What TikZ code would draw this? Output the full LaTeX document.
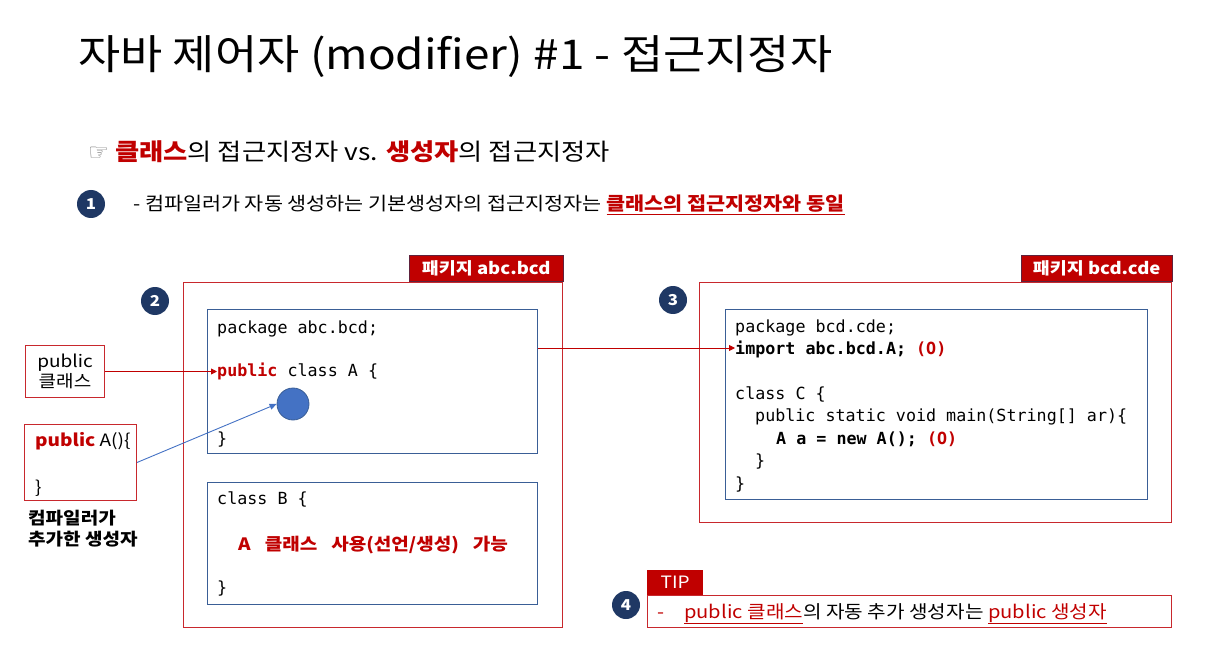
\documentclass[tikz,border=0pt]{standalone}
\usepackage{fontspec}
\setmainfont[FakeStretch=1.12]{Noto Sans CJK KR}
\setmonofont{DejaVu Sans Mono}
\newfontfamily\symfont{DejaVu Sans}
\usepackage{xcolor}
\usepackage{tikz}
\usetikzlibrary{arrows.meta,calc,positioning}

\definecolor{pkgred}{HTML}{C00000}
\definecolor{pkgline}{HTML}{C8282D}
\definecolor{boxblue}{HTML}{3A5E96}
\definecolor{navy}{HTML}{1F3864}
\definecolor{dotblue}{HTML}{4472C4}
\definecolor{handgray}{HTML}{7F7F7F}

\newcommand{\fs}[1]{\fontsize{#1}{#1}\selectfont}
\newcommand{\fsb}[2]{\fontsize{#1}{#2}\selectfont}
\newcommand{\gap}{\hspace{14pt}}

\tikzset{
  pkgbox/.style={draw=pkgline, line width=1.4pt, anchor=north west, inner sep=0},
  codebox/.style={draw=boxblue, line width=1.4pt, anchor=north west, inner sep=0},
  pkgtag/.style={fill=pkgred, draw=navy!60!pkgred, line width=0.6pt, text=white,
    font=\bfseries\fs{16.5}, anchor=south east, inner sep=0, minimum height=26},
  numdot/.style={circle, fill=navy, text=white, font=\bfseries\fs{15},
    minimum size=28, inner sep=0},
  codeline/.style={anchor=base west, inner sep=0, font=\ttfamily\fs{16.7}},
  noteline/.style={anchor=base west, inner sep=0, font=\fs{17}},
  redbox/.style={draw=pkgline, line width=1pt, inner sep=0},
  redarrow/.style={draw=pkgred, line width=0.9pt, -{Triangle[length=6pt,width=6pt]}},
  bluearrow/.style={draw=dotblue, line width=0.9pt, -{Triangle[length=7pt,width=6pt]}}
}

\begin{document}
\begin{tikzpicture}[x=1pt,y=-1pt]
  \useasboundingbox (0,0) rectangle (1208,655);
  % title and headline
  \node[anchor=base west, inner sep=0, font=\fs{41}] (title) at (78,70)
    {자바 제어자 (modifier) \#1 - 접근지정자};
  \node[anchor=base west, inner sep=0, font=\fs{23.5}] (headline) at (88,161)
    {{\symfont\color{handgray}☞} \textcolor{pkgred}{\bfseries 클래스}의 접근지정자 vs. \textcolor{pkgred}{\bfseries 생성자}의 접근지정자};
  \node[numdot] (num1) at (91,204) {1};
  \node[anchor=base west, inner sep=0, font=\fs{18.5}] (rule1) at (133,211)
    {- 컴파일러가 자동 생성하는 기본생성자의 접근지정자는 \textcolor{pkgred}{\bfseries\underline{클래스의 접근지정자와 동일}}};

  % package abc.bcd
  \node[pkgbox, minimum width=379, minimum height=345] (pkgA) at (183,282) {};
  \node[pkgtag, minimum width=154] (pkgAtag) at (pkgA.north east) {패키지 abc.bcd};
  \node[numdot] (num2) at (155,301) {2};
  \node[codebox, minimum width=330, minimum height=144] (clsA) at (207,309) {};
  \node[codeline] (pkgAline) at (217,333) {package abc.bcd;};
  \node[codeline] (publine) at (217,376) {\textcolor{pkgred}{\bfseries public} class A \{};
  \node[codeline] (clsAend) at (217,444) {\}};
  \node[circle, fill=dotblue, draw=boxblue, line width=0.8pt, minimum size=32, inner sep=0] (dotA) at (293,404) {};
  \node[codebox, minimum width=330, minimum height=122] (clsB) at (207,482) {};
  \node[codeline] (clsBline) at (217,504) {class B \{};
  \node[anchor=base west, inner sep=0, font=\bfseries\fs{17}, text=pkgred] (useA) at (238,550)
    {A\gap 클래스\gap 사용(선언/생성)\gap 가능};
  \node[codeline] (clsBend) at (217,593) {\}};

  % left notes
  \node[redbox, anchor=north west, minimum width=79, minimum height=52, align=center,
    font=\fsb{17}{20}] (pubcls) at (25,345) {public\\클래스};
  \node[redbox, anchor=north west, minimum width=112, minimum height=76] (ctor) at (24,424) {};
  \node[noteline] (ctorhead) at (35,446) {\textcolor{pkgred}{\bfseries public} A()\{};
  \node[noteline] (ctorend) at (35,493) {\}};
  \node[anchor=north west, inner sep=0, align=left, font=\bfseries\fsb{17}{21}] (ctorlbl) at (28,510)
    {컴파일러가\\추가한 생성자};

  % package bcd.cde
  \node[pkgbox, minimum width=472, minimum height=240] (pkgC) at (699,282) {};
  \node[pkgtag, minimum width=151] (pkgCtag) at (pkgC.north east) {패키지 bcd.cde};
  \node[numdot] (num3) at (673,300) {3};
  \node[codebox, minimum width=422, minimum height=190] (clsC) at (725,309) {};
  \node[codeline] (pkgCline) at (735,332) {package bcd.cde;};
  \node[codeline] (impline) at (735,354) {\bfseries import abc.bcd.A; \textcolor{pkgred}{(O)}};
  \node[codeline] (clsCline) at (735,399) {class C \{};
  \node[codeline] (mainline) at (755,421) {public static void main(String[] ar)\{};
  \node[codeline] (newline) at (776,444) {\bfseries A a = new A(); \textcolor{pkgred}{(O)}};
  \node[codeline] (mainend) at (755,466) {\}};
  \node[codeline] (clsCend) at (735,489) {\}};

  % connectors
  \draw[redarrow] (pubcls.east) -- (publine.west |- pubcls.east);
  \draw[bluearrow] (ctor.east) -- (dotA.west);
  \draw[redarrow] ($(clsA.east |- impline.base)+(0,-6)$) -- ($(impline.base west)+(0,-6)$);

  % tip
  \node[fill=pkgred, text=white, font=\fs{17}, anchor=south west, minimum width=56,
    minimum height=25, inner sep=0] (tiptag) at (647,595) {TIP};
  \node[draw=pkgline, line width=0.8pt, anchor=north west, minimum width=524,
    minimum height=32, inner sep=0] (tip) at (647,595) {};
  \node[anchor=base west, inner sep=0, font=\fs{18}] (tiptext) at (657,618)
    {\textcolor{pkgred}{-\hspace{20pt}\underline{public 클래스}}의 자동 추가 생성자는 \textcolor{pkgred}{\underline{public 생성자}}};
  \node[numdot] (num4) at (626,605) {4};
\end{tikzpicture}
\end{document}
